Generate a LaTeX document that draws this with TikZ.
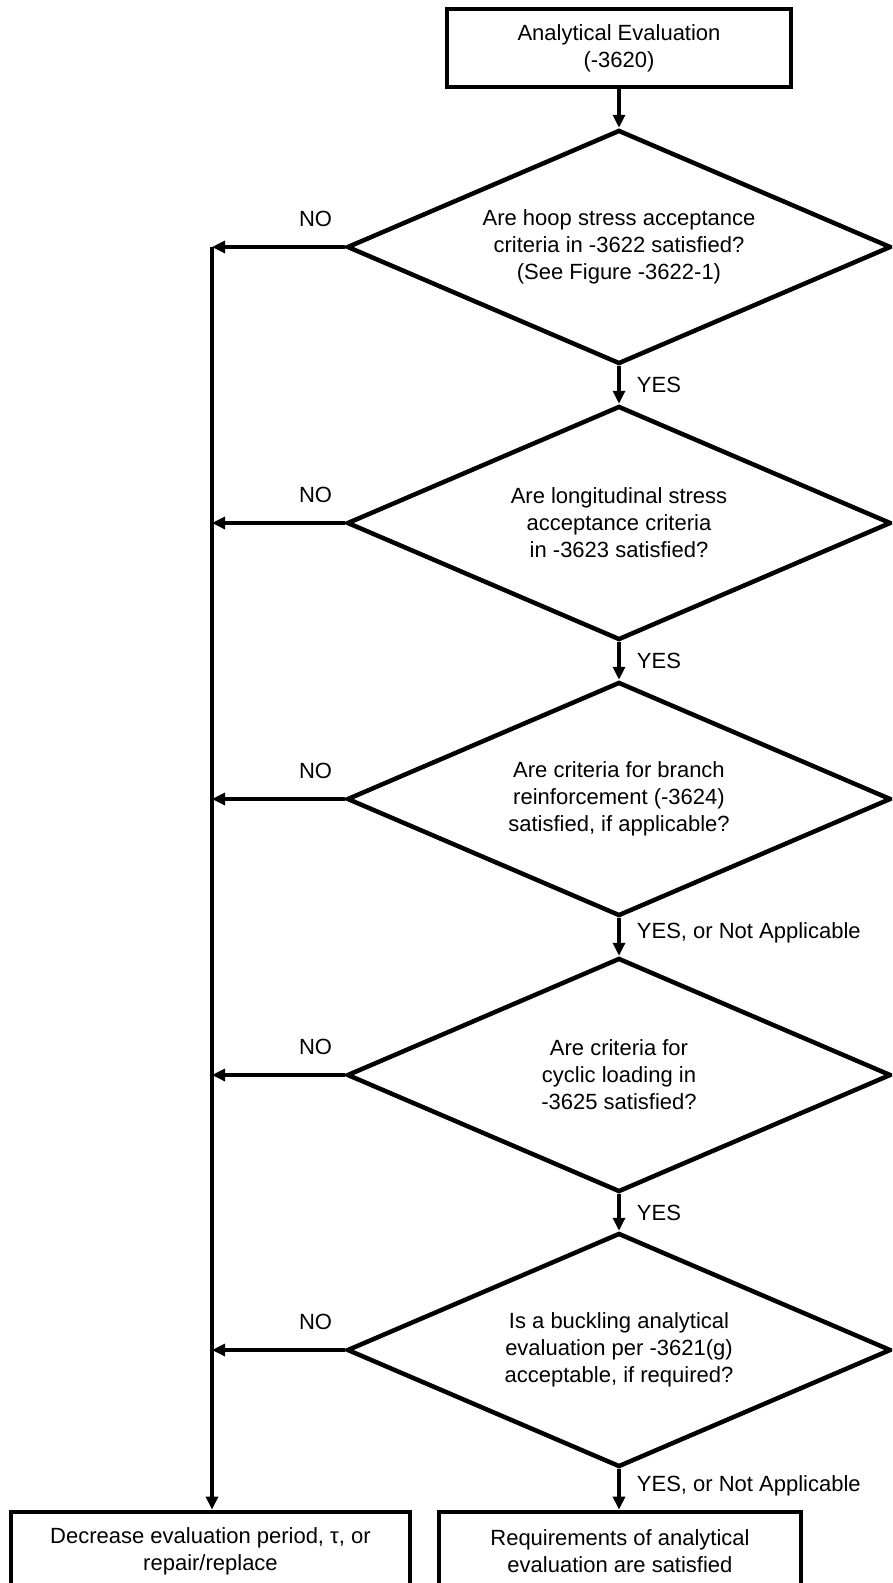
\documentclass[tikz,border=0pt]{standalone}
\usepackage{fontspec}
\setmainfont{Liberation Sans}
\usepackage{tikz}
\usetikzlibrary{arrows.meta,shapes.geometric,positioning}

\newcommand{\flowfont}{\fontsize{22}{27}\selectfont}
\tikzset{
  decision/.style={diamond,draw,line width=4.5pt,aspect=2.325,minimum width=544pt,minimum height=234pt,inner sep=0pt,align=center},
  block/.style={rectangle,draw,line width=4.8pt,minimum height=78pt,inner sep=0pt,align=center},
  flow/.style={line width=3.2pt,-{Triangle[length=13pt,width=12pt]}},
}

\begin{document}
\begin{tikzpicture}[x=1pt,y=-1pt,every node/.style={font=\flowfont}]
\useasboundingbox (0,0) rectangle (892,1583);
\clip (0,0) rectangle (892,1583);
\node[block,minimum width=344pt] (start) at (619,48) {Analytical Evaluation\\(-3620)};
\node[decision] (hoop) at (619,247) {Are hoop stress acceptance\\criteria in -3622 satisfied?\\(See Figure -3622-1)};
\node[decision] (long) at (619,523) {Are longitudinal stress\\acceptance criteria\\in -3623 satisfied?};
\node[decision] (branch) at (619,799) {Are criteria for branch\\reinforcement (-3624)\\satisfied, if applicable?};
\node[decision] (cyclic) at (619,1075) {Are criteria for\\cyclic loading in\\-3625 satisfied?};
\node[decision] (buckle) at (619,1350) {Is a buckling analytical\\evaluation per -3621(g)\\acceptable, if required?};
\node[block,minimum width=399pt] (repair) at (210.5,1551) {Decrease evaluation period, τ, or\\repair/replace};
\node[block,minimum width=362pt] (done) at (620,1551) {Requirements of analytical\\evaluation are satisfied};
% yes branch
\draw[flow] (start.south) -- (hoop.north);
\draw[flow] (hoop.south) -- node[right=13pt] {YES} (long.north);
\draw[flow] (long.south) -- node[right=13pt] {YES} (branch.north);
\draw[flow] (branch.south) -- node[right=13pt,yshift=4pt] {YES, or Not Applicable} (cyclic.north);
\draw[flow] (cyclic.south) -- node[right=13pt] {YES} (buckle.north);
\draw[flow] (buckle.south) -- node[right=13pt,yshift=4pt] {YES, or Not Applicable} (buckle.south |- done.north);
% no branch
\coordinate (trunk) at (212,247);
\draw[flow] (hoop.west) -- node[pos=0.22,above=15pt] {NO} (hoop.west -| trunk);
\draw[flow] (long.west) -- node[pos=0.22,above=15pt] {NO} (long.west -| trunk);
\draw[flow] (branch.west) -- node[pos=0.22,above=15pt] {NO} (branch.west -| trunk);
\draw[flow] (cyclic.west) -- node[pos=0.22,above=15pt] {NO} (cyclic.west -| trunk);
\draw[flow] (buckle.west) -- node[pos=0.22,above=15pt] {NO} (buckle.west -| trunk);
\draw[flow] (trunk) -- (trunk |- repair.north);
\end{tikzpicture}
\end{document}
